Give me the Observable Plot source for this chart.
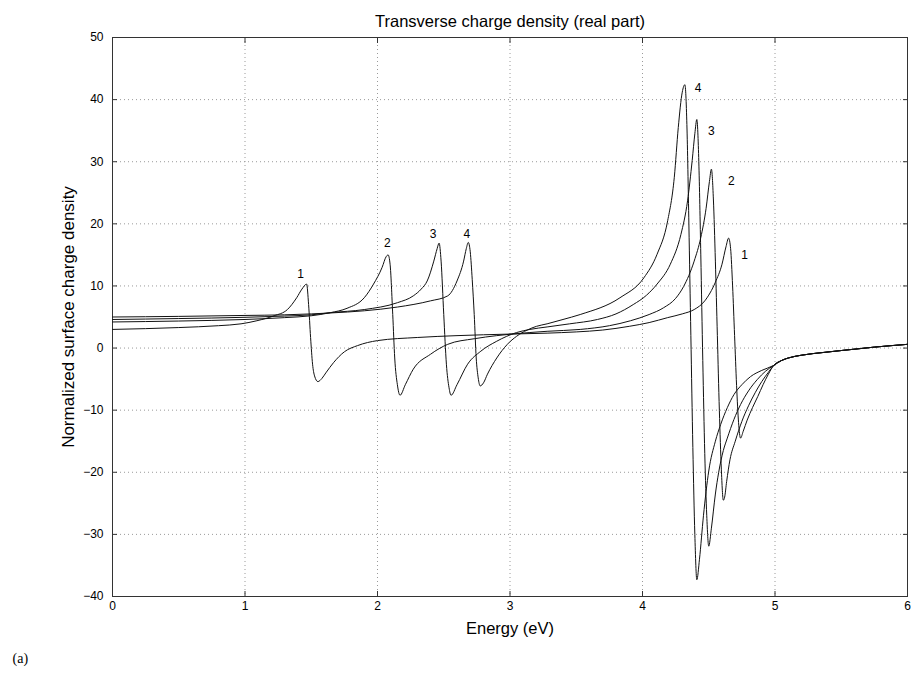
<!DOCTYPE html>
<html><head><meta charset="utf-8">
<script src="https://cdn.jsdelivr.net/npm/d3@7"></script>
<script src="https://cdn.jsdelivr.net/npm/@observablehq/plot@0.6"></script>
<style>body{margin:0;background:#fff;} svg{display:block}</style>
</head><body><div id="chart"></div>
<script>
const titleText = "Transverse charge density (real part)";
const xLabel = "Energy (eV)";
const yLabel = "Normalized surface charge density";
const panelTag = "(a)";
const xTicks = [0, 1, 2, 3, 4, 5, 6];
const yTicks = [-40, -30, -20, -10, 0, 10, 20, 30, 40, 50];

const energy1 = [0, 0.5, 0.8, 0.97, 1.09, 1.22, 1.32, 1.39, 1.43, 1.465, 1.48, 1.495, 1.51, 1.525, 1.55, 1.58, 1.61, 1.67, 1.75, 1.85, 2.0, 2.3, 2.6, 3.0, 3.28, 3.5, 3.7, 3.9, 4.05, 4.19, 4.3, 4.39, 4.47, 4.55, 4.6, 4.63, 4.65, 4.665, 4.68, 4.695, 4.71, 4.725, 4.74, 4.76, 4.79, 4.83, 4.87, 4.91, 4.95, 4.99, 5.05, 5.1, 5.2, 5.37, 5.5, 5.75, 6.0];
const density1 = [3.0, 3.3, 3.6, 3.9, 4.4, 5.2, 6.2, 8.1, 9.5, 10.3, 7.0, 1.7, -2.6, -4.5, -5.4, -4.9, -4.0, -2.3, -0.6, 0.4, 1.2, 1.7, 2.0, 2.25, 2.4, 2.6, 2.9, 3.5, 4.1, 4.9, 5.5, 6.2, 7.6, 10.6, 13.5, 16.3, 17.7, 16.0, 10.0, 2.0, -6.0, -12.0, -14.5, -13.4, -11.6, -9.6, -7.8, -5.9, -4.2, -2.8, -2.0, -1.6, -1.15, -0.7, -0.4, 0.15, 0.6];

const energy2 = [0, 0.5, 1.0, 1.3, 1.5, 1.645, 1.77, 1.9, 1.97, 2.035, 2.065, 2.08, 2.095, 2.115, 2.13, 2.15, 2.17, 2.21, 2.27, 2.4, 2.53, 2.73, 2.9, 3.15, 3.28, 3.53, 3.75, 3.91, 4.05, 4.16, 4.25, 4.31, 4.39, 4.44, 4.48, 4.505, 4.52, 4.535, 4.55, 4.565, 4.58, 4.595, 4.61, 4.62, 4.635, 4.66, 4.70, 4.75, 4.80, 4.85, 4.90, 4.95, 4.99, 5.05, 5.1, 5.2, 5.37, 5.5, 5.75, 6.0];
const density2 = [4.2, 4.35, 4.6, 4.9, 5.2, 5.7, 6.4, 8.1, 10.3, 13.0, 14.7, 15.0, 13.5, 5.4, -1.6, -5.9, -7.6, -5.9, -3.4, -1.0, 0.6, 1.5, 2.0, 2.5, 2.7, 3.0, 3.6, 4.4, 5.4, 6.5, 8.0, 9.9, 14.0, 17.8, 22.5, 26.8, 28.8, 24.0, 14.0, 2.0, -10.0, -19.5, -24.5, -24.0, -21.5, -18.0, -15.0, -11.8, -9.3, -7.2, -5.4, -3.9, -2.8, -2.0, -1.6, -1.15, -0.7, -0.4, 0.15, 0.6];

const energy3 = [0, 0.5, 1.0, 1.3, 1.5, 1.645, 1.9, 2.15, 2.27, 2.33, 2.375, 2.425, 2.45, 2.465, 2.48, 2.50, 2.52, 2.54, 2.555, 2.60, 2.68, 2.78, 2.90, 3.05, 3.15, 3.28, 3.45, 3.66, 3.8, 3.93, 4.03, 4.11, 4.21, 4.29, 4.34, 4.375, 4.395, 4.41, 4.425, 4.44, 4.455, 4.47, 4.485, 4.50, 4.52, 4.55, 4.575, 4.61, 4.64, 4.69, 4.74, 4.80, 4.865, 4.93, 4.99, 5.05, 5.1, 5.2, 5.37, 5.5, 5.75, 6.0];
const density3 = [4.6, 4.75, 4.95, 5.15, 5.35, 5.7, 6.2, 7.3, 8.4, 9.5, 10.8, 14.0, 16.0, 16.9, 14.0, 5.4, -2.6, -6.4, -7.6, -5.9, -2.6, -0.5, 1.1, 2.5, 3.0, 3.4, 3.9, 4.6, 5.5, 7.0, 8.5, 10.3, 13.5, 18.3, 23.7, 30.2, 34.5, 36.8, 30.0, 15.0, -2.0, -17.0, -27.0, -31.9, -29.0, -23.5, -20.0, -16.5, -14.5, -11.5, -9.1, -6.9, -5.1, -3.7, -2.8, -2.0, -1.6, -1.15, -0.7, -0.4, 0.15, 0.6];

const energy4 = [0, 0.5, 1.0, 1.3, 1.5, 1.645, 1.9, 2.15, 2.4, 2.53, 2.60, 2.65, 2.67, 2.685, 2.70, 2.715, 2.73, 2.745, 2.76, 2.775, 2.80, 2.83, 2.90, 2.98, 3.05, 3.13, 3.2, 3.28, 3.4, 3.53, 3.83, 4.01, 4.11, 4.19, 4.24, 4.27, 4.30, 4.32, 4.335, 4.35, 4.365, 4.38, 4.395, 4.41, 4.43, 4.46, 4.50, 4.55, 4.59, 4.64, 4.69, 4.75, 4.815, 4.90, 4.99, 5.05, 5.1, 5.2, 5.37, 5.5, 5.75, 6.0];
const density4 = [5.0, 5.1, 5.25, 5.35, 5.5, 5.65, 6.0, 6.6, 7.6, 8.4, 10.8, 14.0, 16.0, 17.0, 15.5, 11.0, 5.4, -1.6, -4.8, -6.1, -5.6, -4.2, -1.6, 0.6, 1.9, 2.9, 3.5, 3.9, 4.6, 5.4, 8.1, 11.3, 15.1, 20.5, 27.5, 35.5, 41.2, 42.4, 36.0, 20.0, 2.0, -16.0, -30.0, -37.3, -34.0, -27.0, -19.8, -15.0, -12.3, -9.6, -7.5, -5.9, -4.6, -3.6, -2.8, -2.0, -1.6, -1.15, -0.7, -0.4, 0.15, 0.6];

const curveLabels = ["1", "2", "3", "4", "4", "3", "2", "1"];
const curveLabelX = [1.42, 2.075, 2.42, 2.675, 4.42, 4.52, 4.67, 4.77];
const curveLabelY = [11.9, 16.9, 18.3, 18.3, 41.9, 34.9, 26.9, 15.0];

const rows = [];
[[energy1, density1, "1"], [energy2, density2, "2"], [energy3, density3, "3"], [energy4, density4, "4"]]
  .forEach(([xs, ys, c]) => xs.forEach((x, i) => rows.push({energy: x, density: ys[i], curve: c})));
const labelRows = curveLabels.map((t, i) => ({text: t, x: curveLabelX[i], y: curveLabelY[i]}));

const gridStyle = {stroke: "#9a9a9a", strokeOpacity: 1, strokeDasharray: "1,3", strokeWidth: 1};

const chart = Plot.plot({
  width: 918, height: 680,
  marginLeft: 112, marginRight: 11, marginTop: 37, marginBottom: 84,
  style: {fontFamily: "'Liberation Sans', Arial, sans-serif", fontSize: "12px", background: "#fff", color: "#000"},
  x: {domain: [0, 6]},
  y: {domain: [-40, 50]},
  marks: [
    Plot.gridX(xTicks.slice(1, -1), gridStyle),
    Plot.gridY(yTicks.slice(1, -1), gridStyle),
    Plot.axisX(xTicks, {anchor: "bottom", tickSize: -5, tickPadding: 10, tickFormat: "d", label: null, stroke: "#333", fontSize: 12}),
    Plot.axisX(xTicks, {anchor: "top", tickSize: -5, tickFormat: () => "", label: null, stroke: "#333"}),
    Plot.axisY(yTicks, {anchor: "left", tickSize: -5, tickPadding: 14, tickFormat: "d", label: null, stroke: "#333", fontSize: 12}),
    Plot.axisY(yTicks, {anchor: "right", tickSize: -5, tickFormat: () => "", label: null, stroke: "#333"}),
    Plot.frame({stroke: "#333", strokeWidth: 1}),
    Plot.line(rows, {x: "energy", y: "density", z: "curve", stroke: "#111", strokeWidth: 1, curve: "monotone-x"}),
    Plot.text(labelRows, {x: "x", y: "y", text: "text", fontSize: 12, fill: "#000"}),
    Plot.text([titleText], {frameAnchor: "top", dy: -22, fontSize: 16.5, fill: "#000"}),
    Plot.text([xLabel], {frameAnchor: "bottom", dy: 37, fontSize: 16.5, fill: "#000"}),
    Plot.text([yLabel], {frameAnchor: "left", dx: -44, rotate: -90, textAnchor: "middle", fontSize: 17, fill: "#000"}),
    Plot.text([panelTag], {frameAnchor: "bottom-left", dx: -100, dy: 66, fontSize: 14, fill: "#000", fontFamily: "'Liberation Serif', 'Times New Roman', serif"})
  ]
});
document.getElementById("chart").appendChild(chart);
</script>
</body></html>
